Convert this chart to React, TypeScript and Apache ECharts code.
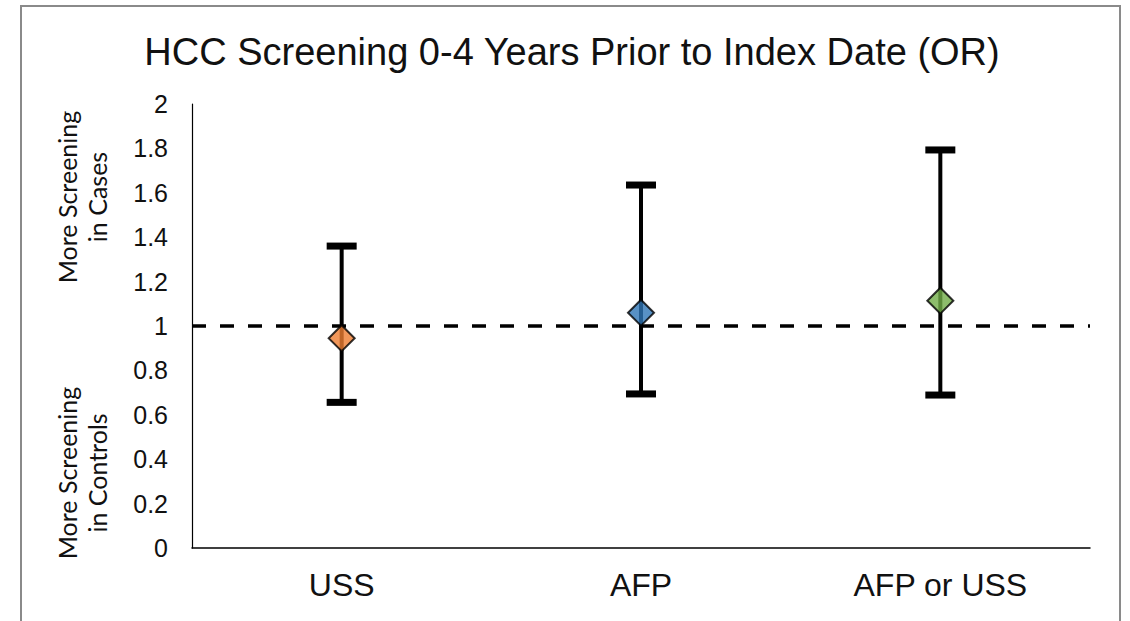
import React, { useEffect, useRef } from "react";
import * as echarts from "echarts";

const categories = ["USS", "AFP", "AFP or USS"];
const oddsRatio = [0.945, 1.06, 1.114];
const lowerCI = [0.656, 0.694, 0.689];
const upperCI = [1.36, 1.635, 1.793];
const pointColors = ["#ED7D31", "#2E75B6", "#70AD47"];
const yTicks = { min: 0, max: 2, interval: 0.2 };
const referenceLine = 1;
const titleText = "HCC Screening 0-4 Years Prior to Index Date (OR)";
const upperNote = "More Screening\nin Cases";
const lowerNote = "More Screening\nin Controls";

export default function App() {
  const ref = useRef<HTMLDivElement>(null);
  useEffect(() => {
    if (!ref.current) return;
    const chart = echarts.init(ref.current, undefined, { renderer: "svg" });
    const errData = categories.map((_, i) => [i, lowerCI[i], upperCI[i]]);
    chart.setOption({
      animation: false,
      backgroundColor: "#ffffff",
      grid: { left: 192, top: 104, right: 40, bottom: 73, containLabel: false },
      xAxis: {
        type: "category",
        data: categories,
        axisLine: { show: true, lineStyle: { color: "#000", width: 1.5 } },
        axisTick: { show: false },
        axisLabel: {
          color: "#111",
          fontSize: 32,
          fontFamily: "Liberation Sans, Arial, sans-serif",
          margin: 21,
        },
        splitLine: { show: false },
      },
      yAxis: {
        type: "value",
        min: yTicks.min,
        max: yTicks.max,
        interval: yTicks.interval,
        axisLine: { show: true, lineStyle: { color: "#000", width: 1.2 } },
        axisTick: { show: false },
        splitLine: { show: false },
        axisLabel: {
          color: "#111",
          fontSize: 25,
          fontFamily: "Liberation Sans, Arial, sans-serif",
          margin: 24,
        },
      },
      graphic: [
        {
          type: "rect",
          shape: { x: 21, y: 6, width: 1099, height: 640 },
          style: { fill: "none", stroke: "#8a8a8a", lineWidth: 2 },
          silent: true,
        },
        {
          type: "text",
          x: 572,
          y: 52,
          style: {
            text: titleText,
            fill: "#111",
            font: "38px 'Liberation Sans', Arial, sans-serif",
            textAlign: "center",
            textVerticalAlign: "middle",
          },
        },
        {
          type: "text",
          x: 82,
          y: 197,
          rotation: Math.PI / 2,
          style: {
            text: upperNote,
            fill: "#111",
            font: "25px Lato, 'Open Sans', sans-serif",
            lineHeight: 30,
            textAlign: "center",
            textVerticalAlign: "middle",
          },
        },
        {
          type: "text",
          x: 82,
          y: 473,
          rotation: Math.PI / 2,
          style: {
            text: lowerNote,
            fill: "#111",
            font: "25px Lato, 'Open Sans', sans-serif",
            lineHeight: 30,
            textAlign: "center",
            textVerticalAlign: "middle",
          },
        },
      ],
      series: [
        {
          type: "custom",
          z: 2,
          data: errData,
          renderItem: (params: any, api: any) => {
            const x = api.value(0);
            const pLo = api.coord([x, api.value(1)]);
            const pHi = api.coord([x, api.value(2)]);
            const hw = 15;
            return {
              type: "group",
              children: [
                {
                  type: "line",
                  shape: { x1: pHi[0], y1: pHi[1], x2: pLo[0], y2: pLo[1] },
                  style: { stroke: "#000", lineWidth: 4 },
                },
                {
                  type: "line",
                  shape: { x1: pHi[0] - hw, y1: pHi[1], x2: pHi[0] + hw, y2: pHi[1] },
                  style: { stroke: "#000", lineWidth: 7 },
                },
                {
                  type: "line",
                  shape: { x1: pLo[0] - hw, y1: pLo[1], x2: pLo[0] + hw, y2: pLo[1] },
                  style: { stroke: "#000", lineWidth: 7 },
                },
              ],
            };
          },
        },
        {
          type: "scatter",
          z: 4,
          symbol: "diamond",
          symbolSize: 26,
          data: oddsRatio.map((v, i) => ({
            value: [i, v],
            itemStyle: { color: pointColors[i], borderColor: "#000", borderWidth: 2 },
          })),
          markLine: {
            silent: true,
            symbol: "none",
            label: { show: false },
            z: 3,
            lineStyle: { color: "#000", width: 3.5, type: [14, 14] },
            data: [{ yAxis: referenceLine }],
          },
        },
      ],
    });
    return () => chart.dispose();
  }, []);
  return (
    <div
      ref={ref}
      style={{ position: "fixed", left: 0, top: 0, width: 1130, height: 621 }}
    />
  );
}
